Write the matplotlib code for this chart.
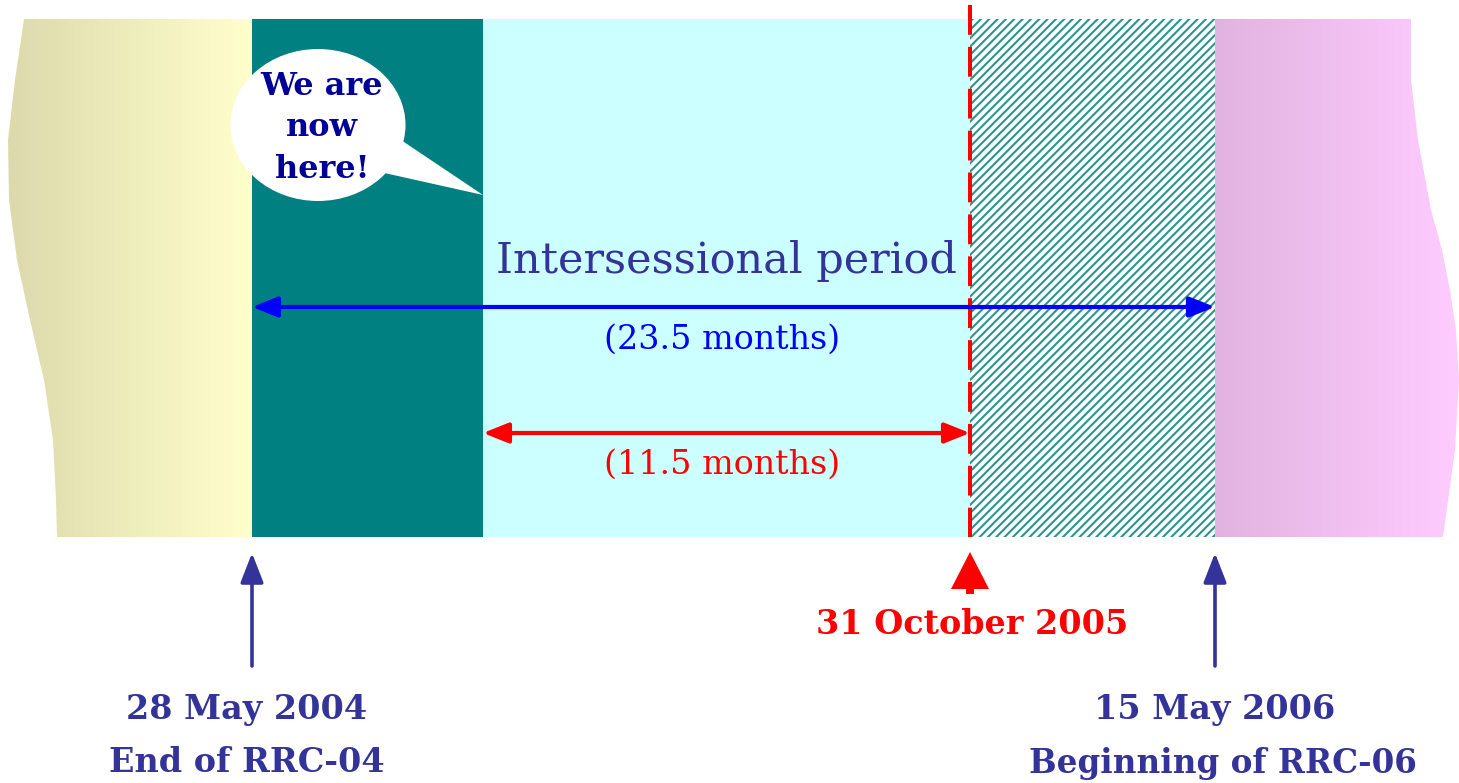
import numpy as np
import matplotlib
matplotlib.use("Agg")
import matplotlib.pyplot as plt
import matplotlib.patches as mpatches
from matplotlib.colors import LinearSegmentedColormap

plt.rcParams['hatch.linewidth'] = 1.5

# timeline milestones (schematic positions along the band, not to scale)
milestone_labels = ["28 May 2004", "31 October 2005", "15 May 2006"]
milestone_notes = ["End of RRC-04", "", "Beginning of RRC-06"]
milestone_x = [252, 970, 1215]
now_x = 483
durations = ["(23.5 months)", "(11.5 months)"]
period_title = "Intersessional period"
bubble_text = "We are\nnow\nhere!"

# band outline
band_top, band_bottom = 19, 537
left_edge_y = [19, 80, 140, 200, 260, 320, 380, 440, 500, 537]
left_edge_x = [24, 15, 8, 9, 17, 30, 44, 53, 56, 57]
right_edge_y = [19, 80, 140, 210, 250, 290, 330, 380, 450, 537]
right_edge_x = [1411, 1411, 1418, 1431, 1442, 1450, 1456, 1459, 1455, 1443]

NAVY = '#333399'

fig = plt.figure(figsize=(14.59, 7.83), dpi=100)
ax = fig.add_axes([0, 0, 1, 1])
ax.set_xlim(0, 1459)
ax.set_ylim(783, 0)
ax.axis('off')


def gradient_region(xs, ys, c0, c1):
    poly = mpatches.Polygon(np.column_stack([xs, ys]), closed=True, fc='none', ec='none')
    ax.add_patch(poly)
    cmap = LinearSegmentedColormap.from_list('g', [c0, c1])
    x0, x1 = min(xs), max(xs)
    grad = np.linspace(0, 1, 256).reshape(1, -1)
    im = ax.imshow(grad, cmap=cmap, extent=[x0, x1, band_bottom, band_top],
                   aspect='auto', zorder=1)
    im.set_clip_path(poly)


# left beige region
lx = left_edge_x + [milestone_x[0], milestone_x[0]]
ly = left_edge_y + [band_bottom, band_top]
gradient_region(lx, ly, '#dcdaac', '#ffffcc')

# right pink region
rx = [milestone_x[2]] + right_edge_x + [milestone_x[2]]
ry = [band_top] + right_edge_y + [band_bottom]
gradient_region(rx, ry, '#e1b3e0', '#ffccff')

h = band_bottom - band_top
ax.add_patch(mpatches.Rectangle((milestone_x[0], band_top), now_x - milestone_x[0], h,
                                fc='#008080', ec='none', zorder=1))
ax.add_patch(mpatches.Rectangle((now_x, band_top), milestone_x[1] - now_x, h,
                                fc='#ccffff', ec='none', zorder=1))
ax.add_patch(mpatches.Rectangle((milestone_x[1], band_top), milestone_x[2] - milestone_x[1], h,
                                fc='white', ec='#2a9590', lw=0, hatch='////', zorder=1))

# deadline line
ax.plot([milestone_x[1], milestone_x[1]], [5, band_bottom], color='red', lw=2.9,
        dashes=(7.4, 3.0), zorder=4)

# speech bubble
bub = mpatches.Ellipse((318, 125), 175, 152, fc='white', ec='none', zorder=3)
ax.add_patch(bub)
ax.add_patch(mpatches.Polygon([(398, 138), (now_x, 195), (380, 172)], closed=True,
                              fc='white', ec='none', zorder=3))
ax.text(322, 128, bubble_text, ha='center', va='center', fontsize=23, fontweight='bold',
        family='DejaVu Serif', color='#000099', linespacing=1.45, zorder=5)

# intersessional period arrow
ax.text(726, 273, period_title, ha='center', va='baseline', fontsize=31,
        family='DejaVu Serif', color=NAVY, zorder=5)
ax.annotate('', xy=(milestone_x[0], 307), xytext=(milestone_x[2], 307),
            arrowprops=dict(arrowstyle='<|-|>,head_length=0.7,head_width=0.28', color='blue',
                            lw=3, shrinkA=0, shrinkB=0, mutation_scale=22), zorder=5)
ax.text(722, 340, durations[0], ha='center', va='center', fontsize=24,
        family='DejaVu Serif', color='blue', zorder=5)

ax.annotate('', xy=(now_x, 433), xytext=(milestone_x[1], 433),
            arrowprops=dict(arrowstyle='<|-|>,head_length=0.7,head_width=0.28', color='red',
                            lw=3, shrinkA=0, shrinkB=0, mutation_scale=22), zorder=5)
ax.text(722, 465, durations[1], ha='center', va='center', fontsize=24,
        family='DejaVu Serif', color='red', zorder=5)

# milestone arrows and labels
for i in (0, 2):
    ax.annotate('', xy=(milestone_x[i], 553), xytext=(milestone_x[i], 666),
                arrowprops=dict(arrowstyle='-|>,head_length=0.9,head_width=0.35', color=NAVY,
                                lw=2.6, shrinkA=0, shrinkB=0, mutation_scale=20), zorder=5)

ax.add_patch(mpatches.FancyArrow(milestone_x[1], 594, 0, -42, width=8, head_width=38,
                                 head_length=37, length_includes_head=True,
                                 fc='red', ec='none', zorder=5))

bold = dict(ha='center', va='center', fontsize=24, fontweight='bold', family='DejaVu Serif')
ax.text(milestone_x[1] + 2, 625, milestone_labels[1], color='red', **bold)
ax.text(milestone_x[0] - 5, 710, milestone_labels[0], color=NAVY, **bold)
ax.text(milestone_x[0] - 5, 763, milestone_notes[0], color=NAVY, **bold)
ax.text(milestone_x[2], 710, milestone_labels[2], color=NAVY, **bold)
ax.text(milestone_x[2] + 8, 763, milestone_notes[2], color=NAVY, fontsize=23.5,
        **{k: v for k, v in bold.items() if k != 'fontsize'})

fig.savefig('out.png', dpi=100, facecolor='white')
